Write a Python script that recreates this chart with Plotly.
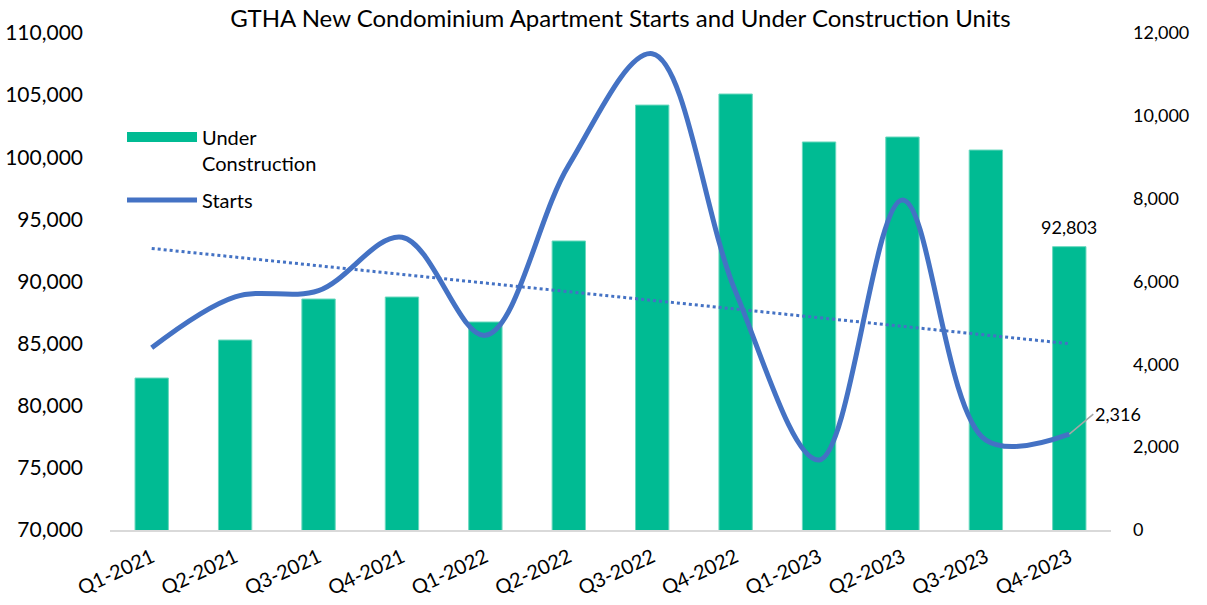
import numpy as np
import plotly.graph_objects as go

quarters = ["Q1-2021", "Q2-2021", "Q3-2021", "Q4-2021", "Q1-2022", "Q2-2022",
            "Q3-2022", "Q4-2022", "Q1-2023", "Q2-2023", "Q3-2023", "Q4-2023"]
under_construction = [82230, 85290, 88590, 88750, 86740, 93260,
                      104200, 105090, 101230, 101630, 100580, 92803]
starts = [4400, 5630, 5780, 7070, 4700, 8810,
          11500, 5750, 1690, 7970, 2170, 2316]

# linear trend of starts (Excel-style trendline)
xi = np.arange(1, len(starts) + 1)
slope, intercept = np.polyfit(xi, starts, 1)
trend = list(slope * xi + intercept)

FONT = "Lato"
BAR_COLOR = "#00BB93"
LINE_COLOR = "#4472C4"

fig = go.Figure()
fig.add_trace(go.Bar(
    x=quarters, y=under_construction, name="Under<br>Construction",
    marker=dict(color=BAR_COLOR, line=dict(color="#6AD8BE", width=1)),
    width=0.4, yaxis="y", showlegend=False, legendgroup="uc",
))
# legend entry with a wide swatch, as in the Excel legend
fig.add_trace(go.Scatter(
    x=[None], y=[None], name="Under<br>Construction", mode="lines",
    line=dict(color=BAR_COLOR, width=14), yaxis="y", legendgroup="uc",
))
fig.add_trace(go.Scatter(
    x=quarters, y=starts, name="Starts", mode="lines",
    line=dict(color=LINE_COLOR, width=5, shape="spline", smoothing=1.0),
    yaxis="y2", legendgroup="st",
))
fig.add_trace(go.Scatter(
    x=quarters, y=trend, name="Linear (Starts)", mode="lines",
    line=dict(color=LINE_COLOR, width=3, dash="dot"),
    yaxis="y2", showlegend=False, legendgroup="tr",
))

fig.add_annotation(
    x=quarters[-1], y=under_construction[-1], yref="y", xref="x",
    text=f"{under_construction[-1]:,}", showarrow=False, yanchor="bottom", yshift=7,
    font=dict(family=FONT, size=18, color="#000000"),
)
fig.add_annotation(
    x=quarters[-1], y=starts[-1], yref="y2", xref="x",
    text=f"{starts[-1]:,}", showarrow=True, arrowhead=0, arrowwidth=1.5,
    arrowcolor="#A6A6A6", ax=24, ay=-20, xanchor="left",
    font=dict(family=FONT, size=18, color="#000000"),
)

fig.update_layout(
    width=1207, height=605,
    margin=dict(l=110, r=96, t=33, b=75, autoexpand=False),
    paper_bgcolor="white", plot_bgcolor="white",
    font=dict(family=FONT, size=20, color="#000000"),
    title=dict(text="GTHA New Condominium Apartment Starts and Under Construction Units",
               x=0.514, xanchor="center", y=0.970, yanchor="middle",
               font=dict(family=FONT, size=24, color="#000000")),
    xaxis=dict(range=[-0.5, len(quarters) - 0.5], autorange=False,
               showgrid=False, showline=True, linecolor="#D9D9D9", linewidth=2,
               tickangle=-25, ticks="", tickfont=dict(size=20), ticklabelstandoff=6,
               automargin=False),
    yaxis=dict(range=[70000, 110000], dtick=5000, tickformat=",", showgrid=False,
               zeroline=False, showline=False, ticks="", ticklabelstandoff=26,
               tickfont=dict(size=21), automargin=False),
    yaxis2=dict(range=[0, 12000], dtick=2000, tickformat=",", overlaying="y",
                side="right", showgrid=False, zeroline=False, showline=False,
                ticks="", ticklabelstandoff=21, tickfont=dict(size=18),
                automargin=False),
    legend=dict(x=0.012, y=0.83, xanchor="left", yanchor="top",
                bgcolor="rgba(0,0,0,0)", font=dict(size=20), itemwidth=70,
                tracegroupgap=8, valign="top", traceorder="grouped"),
    bargap=0.6,
    showlegend=True,
)

fig.write_html(
    "out.html",
    config={"displayModeBar": False},
    post_script="document.body.style.margin='0';document.body.style.overflow='hidden';",
)
